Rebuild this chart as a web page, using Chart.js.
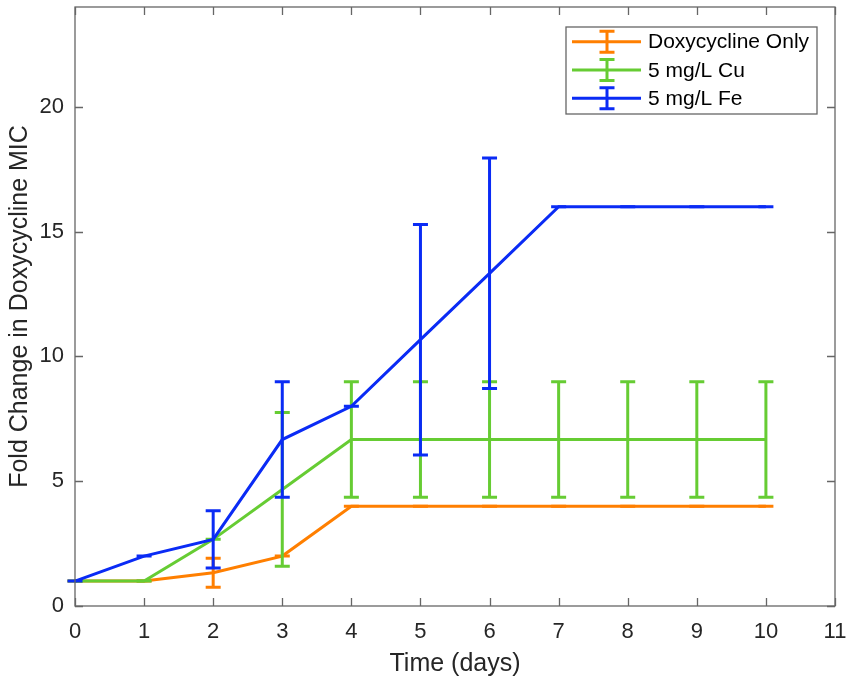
<!DOCTYPE html>
<html>
<head>
<meta charset="utf-8">
<script src="https://cdn.jsdelivr.net/npm/chart.js@4.4.1/dist/chart.umd.min.js"></script>
<style>
html, body { margin: 0; padding: 0; background: #fff; }
</style>
</head>
<body>
<canvas id="c" width="851" height="686"></canvas>
<script>
// values
const days = [0, 1, 2, 3, 4, 5, 6, 7, 8, 9, 10];
const doxyMean = [1, 1, 1.33, 2, 4, 4, 4, 4, 4, 4, 4];
const doxyErr  = [0, 0, 0.58, 0, 0, 0, 0, 0, 0, 0, 0];
const cuMean = [1, 1, 2.67, 4.67, 6.67, 6.67, 6.67, 6.67, 6.67, 6.67, 6.67];
const cuErr  = [0, 0, 0, 3.08, 2.31, 2.31, 2.31, 2.31, 2.31, 2.31, 2.31];
const feMean = [1, 2, 2.67, 6.67, 8, 10.67, 13.33, 16, 16, 16, 16];
const feErr  = [0, 0, 1.15, 2.31, 0, 4.62, 4.62, 0, 0, 0, 0];
const xTicks = [0, 1, 2, 3, 4, 5, 6, 7, 8, 9, 10, 11];
const yTicks = [0, 5, 10, 15, 20];

const FONT = '"Liberation Sans", Arial, Helvetica, sans-serif';
const TEXT = '#262626';
const AXIS = '#666666';

function pts(mean) { return days.map((d, i) => ({ x: d, y: mean[i] })); }

// vertical error bars with caps, drawn right after each dataset (MATLAB errorbar look)
const errorBars = {
    id: 'errorBars',
    afterDatasetDraw(chart, args) {
        const ds = chart.data.datasets[args.index];
        if (!ds.errors) return;
        const xs = chart.scales.x, ys = chart.scales.y, ctx = chart.ctx;
        ctx.save();
        ctx.strokeStyle = ds.borderColor; ctx.lineWidth = 3; ctx.lineCap = 'butt';
        ds.data.forEach((p, i) => {
            const px = xs.getPixelForValue(p.x);
            const top = ys.getPixelForValue(p.y + ds.errors[i]);
            const bot = ys.getPixelForValue(p.y - ds.errors[i]);
            ctx.beginPath();
            ctx.moveTo(px, top); ctx.lineTo(px, bot);
            ctx.moveTo(px - 7.5, top); ctx.lineTo(px + 7.5, top);
            ctx.moveTo(px - 7.5, bot); ctx.lineTo(px + 7.5, bot);
            ctx.stroke();
        });
        ctx.restore();
    }
};

// box around axes with inward ticks on all sides, plus the boxed legend
const frame = {
    id: 'frame',
    afterDraw(chart) {
        const { ctx, chartArea: a } = chart;
        const xs = chart.scales.x, ys = chart.scales.y;
        ctx.save();
        ctx.strokeStyle = AXIS; ctx.lineWidth = 1.3;
        ctx.strokeRect(a.left, a.top, a.right - a.left, a.bottom - a.top);
        ctx.beginPath();
        xTicks.forEach(v => {
            const px = Math.round(xs.getPixelForValue(v)) + 0.5;
            ctx.moveTo(px, a.bottom); ctx.lineTo(px, a.bottom - 8);
            ctx.moveTo(px, a.top); ctx.lineTo(px, a.top + 8);
        });
        yTicks.forEach(v => {
            const py = Math.round(ys.getPixelForValue(v)) + 0.5;
            ctx.moveTo(a.left, py); ctx.lineTo(a.left + 8, py);
            ctx.moveTo(a.right, py); ctx.lineTo(a.right - 8, py);
        });
        ctx.stroke();

        // legend
        const lx = 566, ly = 27, lw = 251, lh = 87, rowH = 28.3;
        ctx.fillStyle = '#fff'; ctx.fillRect(lx, ly, lw, lh);
        ctx.strokeStyle = AXIS; ctx.lineWidth = 1.3; ctx.strokeRect(lx, ly, lw, lh);
        ['Doxycycline Only', '5 mg/L Cu', '5 mg/L Fe'].forEach((lab, r) => {
            const ds = chart.data.datasets.find(d => d.label === lab);
            const cy = ly + 14.7 + r * rowH;
            ctx.strokeStyle = ds.borderColor; ctx.lineWidth = 3;
            ctx.beginPath();
            ctx.moveTo(572, cy); ctx.lineTo(641, cy);
            ctx.moveTo(607, cy - 10.5); ctx.lineTo(607, cy + 10.5);
            ctx.moveTo(599.5, cy - 10.5); ctx.lineTo(614.5, cy - 10.5);
            ctx.moveTo(599.5, cy + 10.5); ctx.lineTo(614.5, cy + 10.5);
            ctx.stroke();
            ctx.fillStyle = '#000'; ctx.font = '21px ' + FONT;
            ctx.textBaseline = 'middle'; ctx.textAlign = 'left';
            ctx.fillText(lab, 648, cy + 1);
        });
        ctx.restore();
    }
};

new Chart(document.getElementById('c'), {
    type: 'line',
    data: {
        datasets: [
            { label: 'Doxycycline Only', data: pts(doxyMean), errors: doxyErr, borderColor: '#FF7F00', order: 3 },
            { label: '5 mg/L Cu', data: pts(cuMean), errors: cuErr, borderColor: '#66CC33', order: 2 },
            { label: '5 mg/L Fe', data: pts(feMean), errors: feErr, borderColor: '#0A2BF5', order: 1 }
        ].map(d => Object.assign(d, { borderWidth: 3, pointRadius: 0, tension: 0, fill: false, clip: 10 }))
    },
    options: {
        responsive: false, animation: false, devicePixelRatio: 1,
        layout: { padding: { top: 7, right: 16, left: 0, bottom: 0 } },
        plugins: { legend: { display: false }, tooltip: { enabled: false } },
        scales: {
            x: {
                type: 'linear', min: 0, max: 11,
                afterBuildTicks: s => { s.ticks = xTicks.map(v => ({ value: v })); },
                afterFit: s => { s.height = 80; s.paddingLeft = 0; s.paddingRight = 0; },
                grid: { display: false, drawTicks: false }, border: { display: false },
                ticks: { font: { family: FONT, size: 22 }, color: TEXT, padding: 13, maxRotation: 0 },
                title: { display: true, text: 'Time (days)', font: { family: FONT, size: 25 }, color: TEXT, padding: { top: 0, bottom: 7 } }
            },
            y: {
                min: 0, max: 24,
                afterBuildTicks: s => { s.ticks = yTicks.map(v => ({ value: v })); },
                afterFit: s => { s.width = 75; s.paddingTop = 0; s.paddingBottom = 0; },
                grid: { display: false, drawTicks: false }, border: { display: false },
                ticks: { font: { family: FONT, size: 22 }, color: TEXT, padding: 11 },
                title: { display: true, text: 'Fold Change in Doxycycline MIC', font: { family: FONT, size: 25 }, color: TEXT, padding: { top: 5, bottom: 0 } }
            }
        }
    },
    plugins: [errorBars, frame]
});
</script>
</body>
</html>
